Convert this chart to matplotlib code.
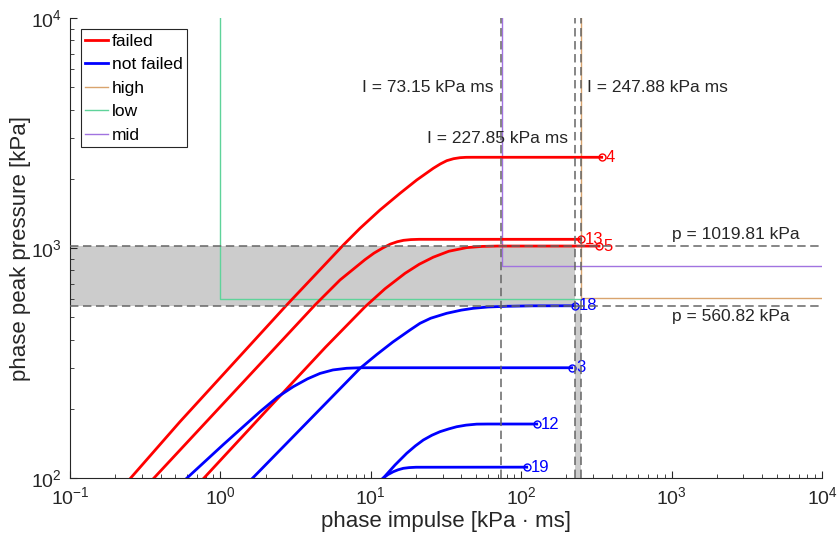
import matplotlib
matplotlib.use('Agg')
import matplotlib.pyplot as plt
from matplotlib.lines import Line2D

plt.rcParams['font.family'] = ['Liberation Sans', 'DejaVu Sans']
plt.rcParams['mathtext.fontset'] = 'custom'
plt.rcParams['mathtext.rm'] = 'Liberation Sans'

# damage thresholds (impulse [kPa ms], pressure [kPa])
imp_low, p_low = 1.0, 600.0
imp_mid, p_mid = 75.0, 835.0
imp_high, p_high = 250.0, 605.0

# limits separating failed / not failed runs
imp_lines = [73.15, 227.85, 247.88]
p_lines = [1019.81, 560.82]
imp_nf_max, imp_f_min = 227.85, 247.88
p_nf_max, p_f_min = 560.82, 1019.81

# run trajectories
run_ids = ['4', '13', '5', '18', '3', '12', '19']
run_failed = [True, True, True, False, False, False, False]
imp_4 = [0.2533, 0.5387, 2.760, 6.565, 8.478, 11.51, 15.64, 20.19, 26.03, 29.0, 32.0,
         35.5, 39.2, 43.0, 48.0, 342.9]
p_4 = [100, 175.7, 565.3, 1030, 1218, 1463, 1729, 1975, 2221, 2320, 2397,
       2445, 2470, 2479, 2480, 2480]
imp_13 = [0.3618, 4.256, 6.241, 9.15, 10.5, 12.0, 13.5, 15.0, 16.5, 18.5, 21.0, 247.88]
p_13 = [100, 565.3, 726, 890, 950, 1000, 1040, 1065, 1080, 1088, 1091, 1091]
imp_5 = [0.778, 2.04, 5.0, 9.15, 12.43, 16.88, 21.0, 26.0, 33.0, 43.4, 55.0, 70.0, 329.0]
p_5 = [100, 197.6, 370.5, 555, 665, 776, 850, 912, 968, 1004, 1016, 1019.81, 1019.81]
imp_18 = [1.640, 8.478, 11.0, 14.0, 18.22, 21.24, 25.0, 31.97, 40.0, 48.0, 60.0, 80.0,
          120.0, 227.85]
p_18 = [100, 299.9, 345, 390, 440, 470.6, 495, 520.2, 537, 546.8, 554, 558,
        560.5, 560.82]
imp_3 = [0.5997, 1.045, 1.834, 2.4, 3.05, 3.8, 4.6, 5.6, 6.9, 8.5, 216.7]
p_3 = [100, 139.7, 194.3, 225, 249.5, 270, 285, 295, 300, 301.6, 301.6]
imp_12 = [12.11, 14.5, 17.33, 19.8, 22.34, 25.5, 28.84, 33.0, 37.25, 43.0, 50.6, 60.0, 126.8]
p_12 = [100, 114, 128.1, 138, 146.3, 153.5, 159.0, 163.5, 167.1, 169.8, 171.5, 171.7, 171.7]
imp_19 = [12.11, 13.0, 14.11, 15.2, 16.45, 18.0, 20.0, 108.8]
p_19 = [100, 103.5, 106.5, 108.6, 110.2, 111.0, 111.4, 111.5]
run_imp = [imp_4, imp_13, imp_5, imp_18, imp_3, imp_12, imp_19]
run_p = [p_4, p_13, p_5, p_18, p_3, p_12, p_19]

c_high = '#d9a46e'
c_low = '#5fd39a'
c_mid = '#a173e0'
c_dash = (0.4, 0.4, 0.4)
c_axis = (0.15, 0.15, 0.15)

fig = plt.figure(figsize=(8.4, 5.47), dpi=100)
ax = fig.add_axes([0.0833, 0.1261, 0.8953, 0.841])
ax.set_xscale('log')
ax.set_yscale('log')
ax.set_xlim(0.1, 1e4)
ax.set_ylim(100, 1e4)
x0, x1 = ax.get_xlim()
y0, y1 = ax.get_ylim()

# transition zone
ax.fill([x0, imp_nf_max, imp_nf_max, imp_f_min, imp_f_min, x0],
        [p_f_min, p_f_min, y0, y0, p_nf_max, p_nf_max],
        facecolor=(0.8, 0.8, 0.8), edgecolor='none', zorder=1)

# thresholds
ax.plot([imp_low, imp_low, imp_high], [y1, p_low, p_low], color=c_low, lw=1, zorder=2)
ax.plot([imp_high, imp_high, x1], [y1, p_high, p_high], color=c_high, lw=1, zorder=2)
ax.plot([imp_mid, imp_mid, x1], [y1, p_mid, p_mid], color=c_mid, lw=1, zorder=2)

for rid, failed, xs, ys in zip(run_ids, run_failed, run_imp, run_p):
    col = 'red' if failed else 'blue'
    ax.plot(xs, ys, color=col, lw=2, zorder=3, solid_joinstyle='round')
    ax.plot(xs[-1], ys[-1], 'o', mfc='none', mec=col, ms=5, mew=1, zorder=4)
    ax.annotate(rid, (xs[-1], ys[-1]), xytext=(3, 0), textcoords='offset points',
                ha='left', va='center', color=col, fontsize=12, zorder=5)

for v in imp_lines:
    ax.axvline(v, color=c_dash, lw=1.1, dashes=(5.5, 3), zorder=5)
for h in p_lines:
    ax.axhline(h, color=c_dash, lw=1.1, dashes=(5.5, 3), zorder=5)

txt = dict(fontsize=12.5, color=c_axis, textcoords='offset points')
ax.annotate('I = 73.15 kPa ms', (imp_lines[0], 5000), xytext=(-5, 0), ha='right', va='center', **txt)
ax.annotate('I = 227.85 kPa ms', (imp_lines[1], 3000), xytext=(-5, 0), ha='right', va='center', **txt)
ax.annotate('I = 247.88 kPa ms', (imp_lines[2], 5000), xytext=(5, 0), ha='left', va='center', **txt)
ax.annotate('p = 1019.81 kPa', (1000, p_lines[0]), xytext=(0, 3), ha='left', va='bottom', **txt)
ax.annotate('p = 560.82 kPa', (1000, p_lines[1]), xytext=(0, -2), ha='left', va='top', **txt)

handles = [Line2D([], [], color='red', lw=2), Line2D([], [], color='blue', lw=2),
           Line2D([], [], color=c_high, lw=1), Line2D([], [], color=c_low, lw=1),
           Line2D([], [], color=c_mid, lw=1)]
leg = ax.legend(handles, ['failed', 'not failed', 'high', 'low', 'mid'],
                loc='upper left', bbox_to_anchor=(0.0142, 0.9754), borderaxespad=0,
                fontsize=12.5, handlelength=1.35, handletextpad=0.2, labelspacing=0.48,
                borderpad=0.25, fancybox=False, framealpha=1)
leg.get_frame().set_edgecolor(c_axis)
leg.get_frame().set_linewidth(0.8)
leg.set_zorder(10)

for s in ['top', 'right']:
    ax.spines[s].set_visible(False)
for s in ['left', 'bottom']:
    ax.spines[s].set_color(c_axis)
    ax.spines[s].set_linewidth(0.8)
ax.tick_params(which='both', direction='in', color=c_axis, labelcolor=c_axis, labelsize=14)
ax.tick_params(which='major', length=5)
ax.tick_params(which='minor', length=3)
ax.tick_params(axis='x', which='major', pad=6)
ax.tick_params(axis='y', which='major', pad=6)

ax.set_xlabel('phase impulse [kPa \u00b7 ms]', fontsize=16, color=c_axis, labelpad=2)
ax.set_ylabel('phase peak pressure [kPa]', fontsize=16, color=c_axis)
ax.yaxis.set_label_coords(-0.052, 0.5)

fig.savefig('out.png', dpi=100)
